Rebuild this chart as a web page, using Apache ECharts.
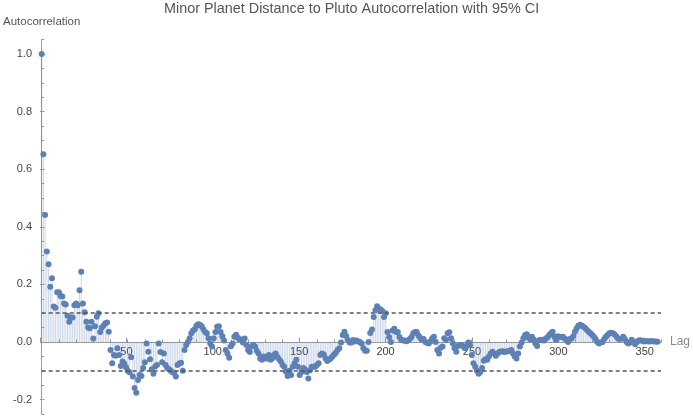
<!DOCTYPE html>
<html>
<head>
<meta charset="utf-8">
<script src="https://cdn.jsdelivr.net/npm/echarts@6/dist/echarts.min.js"></script>
<style>html,body{margin:0;padding:0;background:#fff}#c{width:693px;height:418px}</style>
</head>
<body>
<div id="c"></div>
<script>
const titleText = 'Minor Planet Distance to Pluto Autocorrelation with 95% CI';
const yName = 'Autocorrelation';
const xName = 'Lag';
// autocorrelation value for lag 0,1,2,...
const acf = [
 1.0, 0.652, 0.441, 0.314, 0.27, 0.192, 0.221, 0.123, 0.119, 0.173,
 0.173, 0.16, 0.158, 0.134, 0.13, 0.091, 0.07, 0.085, 0.085, 0.128,
 0.134, 0.128, 0.18, 0.244, 0.134, 0.103, 0.07, 0.05, 0.048, 0.07,
 0.012, 0.055, 0.088, 0.1, 0.035, 0.05, 0.057, 0.065, 0.068, 0.036,
 -0.028, -0.074, -0.045, -0.048, -0.022, -0.045, -0.083, -0.068, -0.075, -0.088,
 -0.1, -0.105, -0.053, -0.12, -0.16, -0.176, -0.132, -0.115, -0.118, -0.09,
 -0.07, -0.005, -0.034, -0.06, -0.095, -0.11, -0.085, -0.08, -0.005, -0.035,
 -0.07, -0.04, -0.08, -0.09, -0.095, -0.1, -0.105, -0.108, -0.12, -0.08,
 -0.075, -0.072, -0.1, -0.028, -0.01, 0, 0.013, 0.03, 0.04, 0.044,
 0.056, 0.062, 0.06, 0.055, 0.044, 0.035, 0.03, 0.013, -0.005, -0.016,
 0.013, 0.035, 0.053, 0.055, 0.035, 0.02, 0.005, -0.028, -0.04, -0.055,
 -0.015, -0.005, 0.018, 0.025, 0.015, 0.009, 0.009, -0.002, 0.012, -0.01,
 -0.028, -0.035, -0.016, -0.01, -0.016, -0.03, -0.04, -0.057, -0.062, -0.05,
 -0.057, -0.057, -0.045, -0.062, -0.057, -0.045, -0.04, -0.052, -0.06, -0.068,
 -0.08, -0.086, -0.103, -0.118, -0.1, -0.115, -0.086, -0.074, -0.062, -0.086,
 -0.115, -0.104, -0.09, -0.095, -0.104, -0.127, -0.098, -0.086, -0.086, -0.086,
 -0.08, -0.074, -0.045, -0.04, -0.043, -0.057, -0.066, -0.062, -0.057, -0.05,
 -0.043, -0.037, -0.028, -0.022, -0.002, 0.024, 0.036, 0.021, 0.007, -0.002,
 -0.002, 0.007, 0.002, 0.005, 0.002, 0, -0.005, -0.022, -0.03, -0.03,
 0, 0.031, 0.043, 0.087, 0.11, 0.124, 0.116, 0.113, 0.108, 0.087,
 0.1, 0.035, 0.017, 0, 0.04, 0.046, 0.035, 0.035, 0.017, 0.008,
 0.005, 0.005, 0.003, 0.005, 0.01, 0.017, 0.03, 0.035, 0.035, 0.023,
 0.015, 0.008, 0.01, 0, -0.003, -0.005, 0.002, 0.013, 0.018, 0,
 -0.028, -0.04, -0.02, -0.016, 0.013, 0.007, 0.03, 0.034, 0.013, -0.005,
 -0.022, -0.034, -0.014, -0.01, -0.01, -0.016, -0.022, -0.014, -0.002, -0.01,
 -0.045, -0.074, -0.086, -0.1, -0.11, -0.104, -0.09, -0.065, -0.06, -0.062,
 -0.05, -0.04, -0.034, -0.04, -0.048, -0.04, -0.035, -0.033, -0.032, -0.035,
 -0.033, -0.032, -0.03, -0.028, -0.04, -0.05, -0.057, -0.04, -0.016, -0.002,
 0.013, 0.024, 0.027, 0.016, 0.009, 0.018, 0.009, -0.005, -0.014, 0.005,
 0.008, 0.006, 0.005, 0.012, 0.016, 0.024, 0.03, 0.036, 0.018, 0.007,
 0.02, 0.018, 0.017, 0.018, 0.012, 0.007, 0, 0.01, 0.012, 0.02,
 0.036, 0.048, 0.056, 0.06, 0.056, 0.053, 0.048, 0.042, 0.036, 0.03,
 0.024, 0.018, 0.01, 0, -0.005, -0.002, 0, 0.01, 0.018, 0.024,
 0.03, 0.032, 0.03, 0.027, 0.02, 0.012, 0.01, 0.012, 0.018, 0.01,
 0, -0.005, -0.002, 0.008, 0, -0.008, 0, 0.005, 0.006, 0.004,
 0.002, 0.003, 0.003, 0.002, 0.003, 0.003, 0.002, 0.002, 0.001
];
const ciBound = 0.1;      // 95% confidence band (±)
const yMajorTicks = [-0.2, 1.0, 0.2];   // min, max, step of labelled ticks
const xMajorTicks = [0, 350, 50];

const chart = echarts.init(document.getElementById('c'), null, {renderer: 'canvas'});
const axisGray = '#9a9a9a';
const labelColor = '#444';
const font = 'Liberation Sans, Arial, sans-serif';
const pts = acf.map((v, i) => [i, v]);

// pixel scale shared by all grids
const pxPerY = 288, zeroY = 342, x0 = 40, pxPerLag = 622 / 360;
const yPix = (v) => zeroY - pxPerY * v;

chart.setOption({
  animation: false,
  title: {
    text: titleText, left: 159, top: -3,
    textStyle: {fontSize: 14.4, fontWeight: 'normal', color: '#555', fontFamily: font}
  },
  grid: [
    {left: x0, width: 360 * pxPerLag, top: yPix(1.05), height: pxPerY * 1.3},
    {left: x0, width: xMajorTicks[1] * pxPerLag, top: yPix(1.0), height: pxPerY * 1.0},
    {left: x0, width: 100, top: yPix(yMajorTicks[1]), height: pxPerY * (yMajorTicks[1] - yMajorTicks[0])}
  ],
  xAxis: [
    {
      gridIndex: 0, type: 'value', min: 0, max: 360, interval: 10,
      name: xName, nameLocation: 'end', nameGap: 9,
      nameTextStyle: {color: '#888', fontSize: 12, fontFamily: font},
      axisLine: {onZero: true, lineStyle: {color: axisGray, width: 1}},
      axisTick: {show: true, inside: true, length: 2.5, lineStyle: {color: axisGray}},
      axisLabel: {show: false}, splitLine: {show: false}
    },
    {
      gridIndex: 1, type: 'value', position: 'bottom',
      min: xMajorTicks[0], max: xMajorTicks[1], interval: xMajorTicks[2],
      axisLine: {show: false, onZero: false},
      axisTick: {show: true, inside: true, length: 4.5, lineStyle: {color: axisGray}},
      axisLabel: {margin: 4, color: labelColor, fontSize: 11, fontFamily: font,
        formatter: v => v === 0 ? '' : String(v)},
      splitLine: {show: false}
    },
    {gridIndex: 2, type: 'value', show: false, min: 0, max: 1}
  ],
  yAxis: [
    {
      gridIndex: 0, type: 'value', min: -0.25, max: 1.05, interval: 0.05,
      name: yName, nameLocation: 'end', nameGap: 12,
      nameTextStyle: {color: '#555', fontSize: 11.5, fontFamily: font},
      axisLine: {show: true, onZero: false, lineStyle: {color: axisGray, width: 1}},
      axisTick: {show: true, inside: true, length: 2.5, lineStyle: {color: axisGray}},
      axisLabel: {show: false}, splitLine: {show: false}
    },
    {gridIndex: 1, type: 'value', show: false, min: 0, max: 1},
    {
      gridIndex: 2, type: 'value', min: yMajorTicks[0], max: yMajorTicks[1], interval: yMajorTicks[2],
      axisLine: {show: false, onZero: false},
      axisTick: {show: true, inside: true, length: 4.5, lineStyle: {color: axisGray}},
      axisLabel: {margin: 8, color: labelColor, fontSize: 11, fontFamily: font,
        formatter: v => v.toFixed(1)},
      splitLine: {show: false}
    }
  ],
  series: [
    {
      type: 'bar', xAxisIndex: 0, yAxisIndex: 0, data: pts, barWidth: 1,
      itemStyle: {color: 'rgba(94,129,181,0.32)'}, silent: true
    },
    {
      type: 'scatter', xAxisIndex: 0, yAxisIndex: 0, data: pts, symbolSize: 6,
      itemStyle: {color: '#5E81B5', opacity: 1}, silent: true,
      markLine: {
        silent: true, symbol: 'none', label: {show: false},
        lineStyle: {color: '#555', type: [4, 3], width: 1.6},
        data: [{yAxis: ciBound}, {yAxis: -ciBound}]
      }
    }
  ]
});
</script>
</body>
</html>
